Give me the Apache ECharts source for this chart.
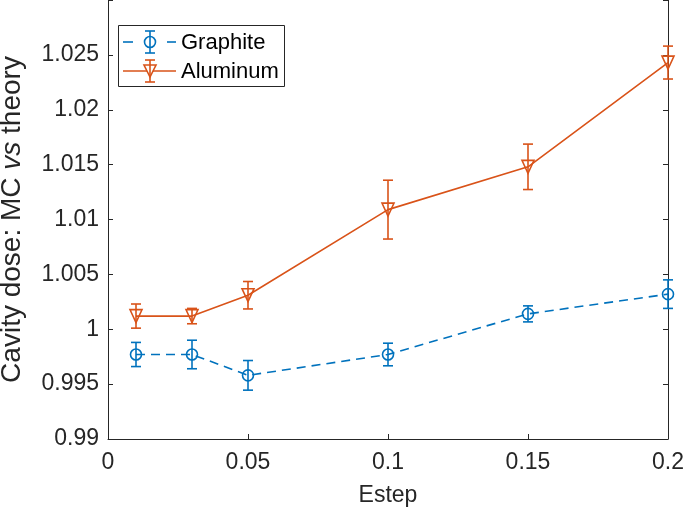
<!DOCTYPE html>
<html>
<head>
<meta charset="utf-8">
<script src="https://cdn.jsdelivr.net/npm/echarts@6/dist/echarts.min.js"></script>
<style>
html,body{margin:0;padding:0;background:#fff;}
#chart{width:685px;height:514px;}
</style>
</head>
<body>
<div id="chart"></div>
<script>
// Data
const estep = [0.01, 0.03, 0.05, 0.1, 0.15, 0.2];
const graphite = [0.9977, 0.9977, 0.9958, 0.9977, 1.0014, 1.0032];
const graphiteErr = [0.0011, 0.0013, 0.00135, 0.00103, 0.00073, 0.0013];
const aluminum = [1.0012, 1.0012, 1.0031, 1.0109, 1.0148, 1.0243];
const aluminumErr = [0.0011, 0.0007, 0.00125, 0.00268, 0.00207, 0.0015];
const xTicks = [0, 0.05, 0.1, 0.15, 0.2];
const yTicks = [0.99, 0.995, 1, 1.005, 1.01, 1.015, 1.02, 1.025, 1.03];

const BLUE = '#0072BD';
const ORANGE = '#D95319';
const AX = '#262626';
const FONT = '"Liberation Sans", Arial, Helvetica, sans-serif';

function pairs(xs, ys) { return xs.map((x, i) => [x, ys[i]]); }
function errData(xs, ys, es) { return xs.map((x, i) => [x, ys[i] - es[i], ys[i] + es[i]]); }

function errRender(color) {
  return function (params, api) {
    const x = api.value(0);
    const lo = api.coord([x, api.value(1)]);
    const hi = api.coord([x, api.value(2)]);
    const cw = 5;
    const style = { stroke: color, lineWidth: 1.6, fill: null };
    return {
      type: 'group',
      children: [
        { type: 'line', shape: { x1: lo[0], y1: lo[1], x2: hi[0], y2: hi[1] }, style: style },
        { type: 'line', shape: { x1: lo[0] - cw, y1: lo[1], x2: lo[0] + cw, y2: lo[1] }, style: style },
        { type: 'line', shape: { x1: hi[0] - cw, y1: hi[1], x2: hi[0] + cw, y2: hi[1] }, style: style }
      ]
    };
  };
}

const chart = echarts.init(document.getElementById('chart'), null, { renderer: 'canvas' });

const xMin = xTicks[0], xMax = xTicks[xTicks.length - 1], xInt = xTicks[1] - xTicks[0];
const yMin = yTicks[0], yMax = yTicks[yTicks.length - 1], yInt = 0.005;

const option = {
  animation: false,
  backgroundColor: '#fff',
  textStyle: { fontFamily: FONT },
  grid: { left: 108, right: 17, top: 0, bottom: 75, containLabel: false, outerBoundsMode: 'none' },
  xAxis: {
    type: 'value', min: xMin, max: xMax, interval: xInt,
    name: 'Estep', nameLocation: 'middle', nameGap: 45,
    nameTextStyle: { color: AX, fontSize: 23, fontFamily: FONT },
    axisLine: { show: true, onZero: false, lineStyle: { color: AX, width: 1 } },
    axisTick: { show: true, inside: true, length: 5, lineStyle: { color: AX } },
    axisLabel: { color: AX, fontSize: 23, margin: 12, fontFamily: FONT,
      formatter: v => String(+v.toFixed(3)) },
    splitLine: { show: false }
  },
  yAxis: [{
    type: 'value', min: yMin, max: yMax, interval: yInt,
    name: '{n|Cavity dose: MC }{i|vs}{n| theory}', nameLocation: 'middle', nameGap: 82,
    nameTextStyle: {
      rich: {
        n: { color: AX, fontSize: 28, fontFamily: FONT },
        i: { color: AX, fontSize: 28, fontFamily: FONT, fontStyle: 'italic' }
      }
    },
    axisLine: { show: true, onZero: false, lineStyle: { color: AX, width: 1 } },
    axisTick: { show: true, inside: true, length: 5, lineStyle: { color: AX } },
    axisLabel: { color: AX, fontSize: 23, margin: 9, fontFamily: FONT,
      formatter: v => (Math.abs(v - yMax) < 1e-9 ? '' : String(+v.toFixed(3))) },
    splitLine: { show: false }
  }, {
    type: 'value', position: 'right', min: yMin, max: yMax, interval: yInt,
    axisLine: { show: true, onZero: false, lineStyle: { color: AX, width: 1 } },
    axisTick: { show: true, inside: true, length: 5, lineStyle: { color: AX } },
    axisLabel: { show: false },
    splitLine: { show: false }
  }],
  series: [
    {
      name: 'Graphite', type: 'line', data: pairs(estep, graphite),
      symbol: 'circle', symbolSize: 11,
      lineStyle: { color: BLUE, width: 1.6, type: [9, 6] },
      itemStyle: { color: 'rgba(255,255,255,0)', borderColor: BLUE, borderWidth: 1.6 },
      z: 3
    },
    {
      name: 'Graphite err', type: 'custom', data: errData(estep, graphite, graphiteErr),
      renderItem: errRender(BLUE), encode: { x: 0, y: [1, 2] }, z: 4
    },
    {
      name: 'Aluminum', type: 'line', data: pairs(estep, aluminum),
      symbol: 'triangle', symbolRotate: 180, symbolSize: [12, 13],
      lineStyle: { color: ORANGE, width: 1.6 },
      itemStyle: { color: 'rgba(255,255,255,0)', borderColor: ORANGE, borderWidth: 1.6 },
      z: 3
    },
    {
      name: 'Aluminum err', type: 'custom', data: errData(estep, aluminum, aluminumErr),
      renderItem: errRender(ORANGE), encode: { x: 0, y: [1, 2] }, z: 4
    }
  ],
  graphic: [
    // legend
    { type: 'rect', shape: { x: 118.5, y: 25.5, width: 166, height: 61 }, style: { fill: '#fff', stroke: AX, lineWidth: 1 }, z: 10 },
    { type: 'line', shape: { x1: 123, y1: 42, x2: 133, y2: 42 }, style: { stroke: BLUE, lineWidth: 1.6 }, z: 11 },
    { type: 'line', shape: { x1: 167, y1: 42, x2: 176, y2: 42 }, style: { stroke: BLUE, lineWidth: 1.6 }, z: 11 },
    { type: 'circle', shape: { cx: 150, cy: 42, r: 5.5 }, style: { fill: '#fff', stroke: BLUE, lineWidth: 1.6 }, z: 12 },
    { type: 'line', shape: { x1: 150, y1: 31, x2: 150, y2: 53 }, style: { stroke: BLUE, lineWidth: 1.6 }, z: 13 },
    { type: 'line', shape: { x1: 145, y1: 31, x2: 155, y2: 31 }, style: { stroke: BLUE, lineWidth: 1.6 }, z: 13 },
    { type: 'line', shape: { x1: 145, y1: 53, x2: 155, y2: 53 }, style: { stroke: BLUE, lineWidth: 1.6 }, z: 13 },
    { type: 'text', style: { x: 181, y: 43, text: 'Graphite', fontSize: 22, fontFamily: FONT, fill: '#000', textVerticalAlign: 'middle', verticalAlign: 'middle' }, z: 12 },
    { type: 'line', shape: { x1: 123, y1: 71, x2: 176, y2: 71 }, style: { stroke: ORANGE, lineWidth: 1.6 }, z: 11 },
    { type: 'polygon', shape: { points: [[144, 65], [156, 65], [150, 77]] }, style: { fill: '#fff', stroke: ORANGE, lineWidth: 1.6 }, z: 12 },
    { type: 'line', shape: { x1: 150, y1: 60, x2: 150, y2: 82 }, style: { stroke: ORANGE, lineWidth: 1.6 }, z: 13 },
    { type: 'line', shape: { x1: 145, y1: 60, x2: 155, y2: 60 }, style: { stroke: ORANGE, lineWidth: 1.6 }, z: 13 },
    { type: 'line', shape: { x1: 145, y1: 82, x2: 155, y2: 82 }, style: { stroke: ORANGE, lineWidth: 1.6 }, z: 13 },
    { type: 'text', style: { x: 181, y: 72, text: 'Aluminum', fontSize: 22, fontFamily: FONT, fill: '#000', textVerticalAlign: 'middle', verticalAlign: 'middle' }, z: 12 }
  ]
};
chart.setOption(option);
</script>
</body>
</html>
